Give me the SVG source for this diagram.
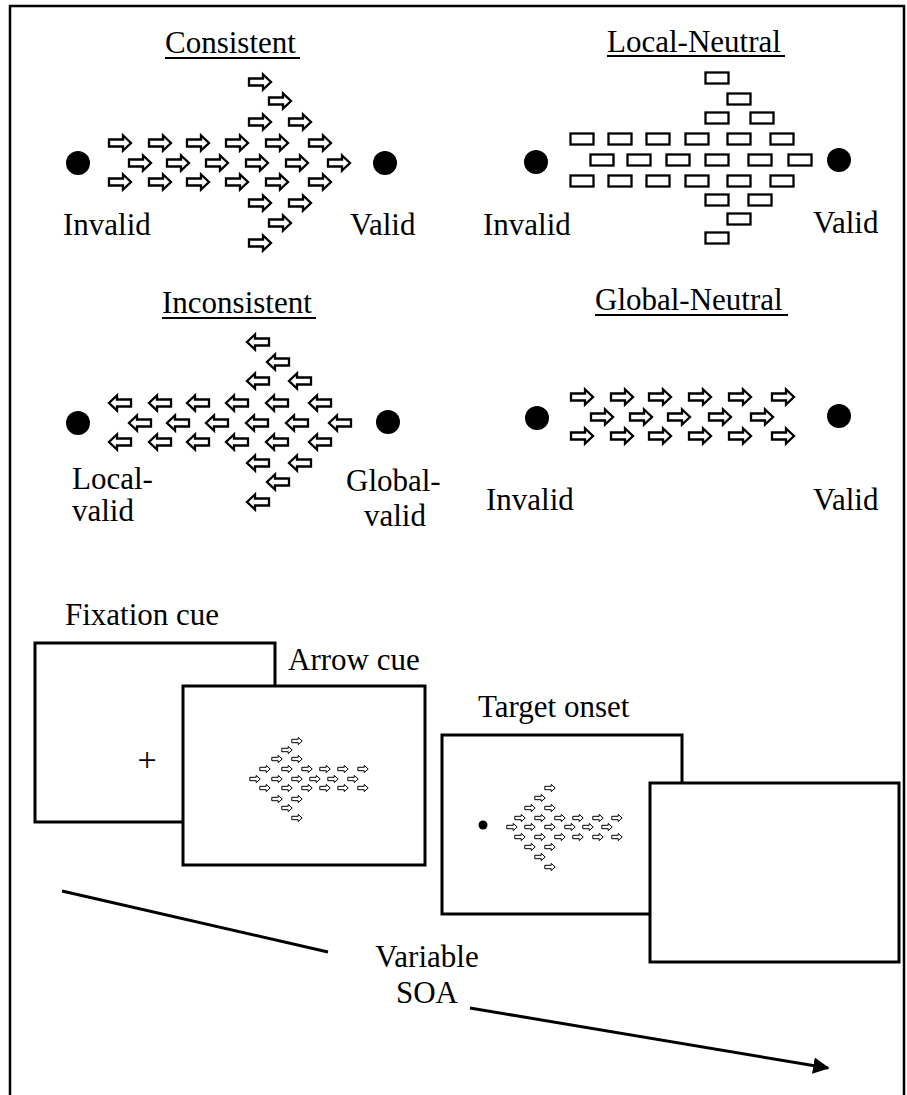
<svg xmlns="http://www.w3.org/2000/svg" xmlns:xlink="http://www.w3.org/1999/xlink" width="907" height="1095" viewBox="0 0 907 1095">
  <style>
    .lbl { font-family: "Liberation Serif", "Times New Roman", serif; font-size: 31px; fill: #000; }
    .ul { stroke: #000; stroke-width: 2; }
    .dot { fill: #000; }
    .screen { fill: #fff; stroke: #000; stroke-width: 3; }
    .conn { stroke: #000; stroke-width: 3; fill: none; }
  </style>
  <defs>
    <!-- outlined block arrows (large) -->
    <path id="arR" d="M-11,-3.5 H3 V-7.5 L11,0 L3,7.5 V3.5 H-11 Z" fill="#fff" stroke="#000" stroke-width="2.3"/>
    <path id="arL" d="M11,-3.5 H-3 V-7.5 L-11,0 L-3,7.5 V3.5 H11 Z" fill="#fff" stroke="#000" stroke-width="2.3"/>
    <!-- neutral bar -->
    <rect id="bar" x="-11.5" y="-5.5" width="23" height="11" fill="#fff" stroke="#000" stroke-width="2.3"/>
    <!-- small arrow shown on the screens -->
    <path id="arS" d="M-5.2,-1.7 H1.2 V-3.6 L5.2,0 L1.2,3.6 V1.7 H-5.2 Z" fill="#fff" stroke="#000" stroke-width="1"/>
    <marker id="head" viewBox="0 0 10 10" refX="9" refY="5" markerWidth="5.5" markerHeight="5.5" orient="auto" markerUnits="strokeWidth">
      <path d="M0,0 L10,5 L0,10 Z" fill="#000"/>
    </marker>
  </defs>

  <rect width="907" height="1095" fill="#fff"/>
  <!-- outer frame -->
  <rect x="10" y="6" width="894" height="1100" fill="none" stroke="#000" stroke-width="2.5"/>

  <!-- Consistent -->
  <g id="consistent">
    <text class="lbl" x="165" y="53">Consistent</text>
    <line class="ul" x1="165" y1="58" x2="300" y2="58"/>
    <circle class="dot" cx="78" cy="163" r="12"/>
    <circle class="dot" cx="385" cy="163" r="12"/>
    <use xlink:href="#arR" x="260" y="82"/>
    <use xlink:href="#arR" x="280" y="101"/>
    <use xlink:href="#arR" x="260" y="122"/><use xlink:href="#arR" x="300" y="122"/>
    <use xlink:href="#arR" x="120" y="143"/><use xlink:href="#arR" x="160" y="143"/><use xlink:href="#arR" x="198" y="143"/><use xlink:href="#arR" x="237" y="143"/><use xlink:href="#arR" x="277" y="143"/><use xlink:href="#arR" x="320" y="143"/>
    <use xlink:href="#arR" x="140" y="163"/><use xlink:href="#arR" x="178" y="163"/><use xlink:href="#arR" x="217" y="163"/><use xlink:href="#arR" x="257" y="163"/><use xlink:href="#arR" x="297" y="163"/><use xlink:href="#arR" x="339" y="163"/>
    <use xlink:href="#arR" x="120" y="182"/><use xlink:href="#arR" x="160" y="182"/><use xlink:href="#arR" x="198" y="182"/><use xlink:href="#arR" x="237" y="182"/><use xlink:href="#arR" x="277" y="182"/><use xlink:href="#arR" x="320" y="182"/>
    <use xlink:href="#arR" x="260" y="203"/><use xlink:href="#arR" x="300" y="203"/>
    <use xlink:href="#arR" x="280" y="223"/>
    <use xlink:href="#arR" x="260" y="243"/>
    <text class="lbl" x="63" y="235">Invalid</text>
    <text class="lbl" x="350" y="235">Valid</text>
  </g>

  <!-- Local-Neutral -->
  <g id="local-neutral">
    <text class="lbl" x="607" y="52">Local-Neutral</text>
    <line class="ul" x1="607" y1="56" x2="785" y2="56"/>
    <circle class="dot" cx="536" cy="162" r="12"/>
    <circle class="dot" cx="839" cy="160" r="12"/>
    <use xlink:href="#bar" x="717" y="78"/>
    <use xlink:href="#bar" x="739" y="99"/>
    <use xlink:href="#bar" x="717" y="118"/><use xlink:href="#bar" x="762" y="118"/>
    <use xlink:href="#bar" x="582" y="139"/><use xlink:href="#bar" x="620" y="139"/><use xlink:href="#bar" x="658" y="139"/><use xlink:href="#bar" x="697" y="139"/><use xlink:href="#bar" x="739" y="139"/><use xlink:href="#bar" x="782" y="139"/>
    <use xlink:href="#bar" x="602" y="160"/><use xlink:href="#bar" x="639" y="160"/><use xlink:href="#bar" x="678" y="160"/><use xlink:href="#bar" x="717" y="160"/><use xlink:href="#bar" x="760" y="160"/><use xlink:href="#bar" x="800" y="160"/>
    <use xlink:href="#bar" x="582" y="181"/><use xlink:href="#bar" x="620" y="181"/><use xlink:href="#bar" x="658" y="181"/><use xlink:href="#bar" x="697" y="181"/><use xlink:href="#bar" x="739" y="181"/><use xlink:href="#bar" x="782" y="181"/>
    <use xlink:href="#bar" x="717" y="200"/><use xlink:href="#bar" x="760" y="200"/>
    <use xlink:href="#bar" x="739" y="219"/>
    <use xlink:href="#bar" x="717" y="238"/>
    <text class="lbl" x="483" y="235">Invalid</text>
    <text class="lbl" x="813" y="233">Valid</text>
  </g>

  <!-- Inconsistent -->
  <g id="inconsistent">
    <text class="lbl" x="162" y="313">Inconsistent</text>
    <line class="ul" x1="162" y1="318" x2="316" y2="318"/>
    <circle class="dot" cx="78" cy="423" r="12"/>
    <circle class="dot" cx="388" cy="422" r="12"/>
    <use xlink:href="#arL" x="258" y="342"/>
    <use xlink:href="#arL" x="278" y="362"/>
    <use xlink:href="#arL" x="258" y="381"/><use xlink:href="#arL" x="300" y="381"/>
    <use xlink:href="#arL" x="120" y="403"/><use xlink:href="#arL" x="160" y="403"/><use xlink:href="#arL" x="198" y="403"/><use xlink:href="#arL" x="237" y="403"/><use xlink:href="#arL" x="277" y="403"/><use xlink:href="#arL" x="320" y="403"/>
    <use xlink:href="#arL" x="140" y="423"/><use xlink:href="#arL" x="178" y="423"/><use xlink:href="#arL" x="217" y="423"/><use xlink:href="#arL" x="257" y="423"/><use xlink:href="#arL" x="297" y="423"/><use xlink:href="#arL" x="340" y="423"/>
    <use xlink:href="#arL" x="120" y="442"/><use xlink:href="#arL" x="160" y="442"/><use xlink:href="#arL" x="198" y="442"/><use xlink:href="#arL" x="237" y="442"/><use xlink:href="#arL" x="277" y="442"/><use xlink:href="#arL" x="320" y="442"/>
    <use xlink:href="#arL" x="258" y="463"/><use xlink:href="#arL" x="300" y="463"/>
    <use xlink:href="#arL" x="278" y="482"/>
    <use xlink:href="#arL" x="258" y="502"/>
    <text class="lbl" x="72" y="489">Local-</text>
    <text class="lbl" x="72" y="521">valid</text>
    <text class="lbl" x="346" y="491">Global-</text>
    <text class="lbl" x="364" y="526">valid</text>
  </g>

  <!-- Global-Neutral -->
  <g id="global-neutral">
    <text class="lbl" x="595" y="310">Global-Neutral</text>
    <line class="ul" x1="595" y1="315" x2="788" y2="315"/>
    <circle class="dot" cx="537" cy="418" r="12"/>
    <circle class="dot" cx="839" cy="416" r="12"/>
    <use xlink:href="#arR" x="582" y="397"/><use xlink:href="#arR" x="622" y="397"/><use xlink:href="#arR" x="660" y="397"/><use xlink:href="#arR" x="700" y="397"/><use xlink:href="#arR" x="740" y="397"/><use xlink:href="#arR" x="783" y="397"/>
    <use xlink:href="#arR" x="602" y="417"/><use xlink:href="#arR" x="641" y="417"/><use xlink:href="#arR" x="679" y="417"/><use xlink:href="#arR" x="720" y="417"/><use xlink:href="#arR" x="762" y="417"/>
    <use xlink:href="#arR" x="582" y="436"/><use xlink:href="#arR" x="622" y="436"/><use xlink:href="#arR" x="660" y="436"/><use xlink:href="#arR" x="700" y="436"/><use xlink:href="#arR" x="740" y="436"/><use xlink:href="#arR" x="783" y="436"/>
    <text class="lbl" x="486" y="510">Invalid</text>
    <text class="lbl" x="813" y="510">Valid</text>
  </g>

  <!-- Trial sequence screens -->
  <g id="fixation-screen">
    <text class="lbl" x="65" y="625">Fixation cue</text>
    <rect class="screen" x="35" y="643" width="240" height="179"/>
    <text class="lbl" x="147" y="771" text-anchor="middle" style="font-size:34px">+</text>
  </g>

  <g id="arrow-screen">
    <text class="lbl" x="288" y="670">Arrow cue</text>
    <rect class="screen" x="183" y="686" width="242" height="179"/>
    <use xlink:href="#arS" x="297" y="741"/>
    <use xlink:href="#arS" x="287" y="750"/>
    <use xlink:href="#arS" x="277" y="759"/><use xlink:href="#arS" x="297" y="759"/>
    <use xlink:href="#arS" x="265" y="769"/><use xlink:href="#arS" x="287" y="769"/><use xlink:href="#arS" x="307" y="769"/><use xlink:href="#arS" x="325" y="769"/><use xlink:href="#arS" x="343" y="769"/><use xlink:href="#arS" x="363" y="769"/>
    <use xlink:href="#arS" x="255" y="779"/><use xlink:href="#arS" x="277" y="779"/><use xlink:href="#arS" x="297" y="779"/><use xlink:href="#arS" x="315" y="779"/><use xlink:href="#arS" x="333" y="779"/><use xlink:href="#arS" x="353" y="779"/>
    <use xlink:href="#arS" x="265" y="788"/><use xlink:href="#arS" x="287" y="788"/><use xlink:href="#arS" x="307" y="788"/><use xlink:href="#arS" x="325" y="788"/><use xlink:href="#arS" x="343" y="788"/><use xlink:href="#arS" x="363" y="788"/>
    <use xlink:href="#arS" x="277" y="799"/><use xlink:href="#arS" x="297" y="799"/>
    <use xlink:href="#arS" x="287" y="808"/>
    <use xlink:href="#arS" x="297" y="818"/>
  </g>

  <g id="target-screen">
    <text class="lbl" x="478" y="717">Target onset</text>
    <rect class="screen" x="442" y="735" width="240" height="179"/>
    <circle class="dot" cx="483" cy="825" r="4.5"/>
    <use xlink:href="#arS" x="550" y="788"/>
    <use xlink:href="#arS" x="540" y="798"/>
    <use xlink:href="#arS" x="530" y="808"/><use xlink:href="#arS" x="550" y="808"/>
    <use xlink:href="#arS" x="520" y="818"/><use xlink:href="#arS" x="540" y="818"/><use xlink:href="#arS" x="560" y="818"/><use xlink:href="#arS" x="578" y="818"/><use xlink:href="#arS" x="598" y="818"/><use xlink:href="#arS" x="617" y="818"/>
    <use xlink:href="#arS" x="512" y="827"/><use xlink:href="#arS" x="530" y="827"/><use xlink:href="#arS" x="550" y="827"/><use xlink:href="#arS" x="570" y="827"/><use xlink:href="#arS" x="588" y="827"/><use xlink:href="#arS" x="607" y="827"/>
    <use xlink:href="#arS" x="520" y="837"/><use xlink:href="#arS" x="540" y="837"/><use xlink:href="#arS" x="560" y="837"/><use xlink:href="#arS" x="578" y="837"/><use xlink:href="#arS" x="598" y="837"/><use xlink:href="#arS" x="617" y="837"/>
    <use xlink:href="#arS" x="530" y="847"/><use xlink:href="#arS" x="550" y="847"/>
    <use xlink:href="#arS" x="540" y="857"/>
    <use xlink:href="#arS" x="550" y="867"/>
  </g>

  <g id="blank-screen">
    <rect class="screen" x="650" y="783" width="249" height="179"/>
  </g>

  <!-- time axis -->
  <g id="connectors">
    <line class="conn" x1="62" y1="891" x2="328" y2="952"/>
    <line class="conn" x1="470" y1="1008" x2="828" y2="1068" marker-end="url(#head)"/>
  </g>
  <g id="soa-label">
    <text class="lbl" x="427" y="967" text-anchor="middle">Variable</text>
    <text class="lbl" x="427" y="1003" text-anchor="middle">SOA</text>
  </g>
</svg>
